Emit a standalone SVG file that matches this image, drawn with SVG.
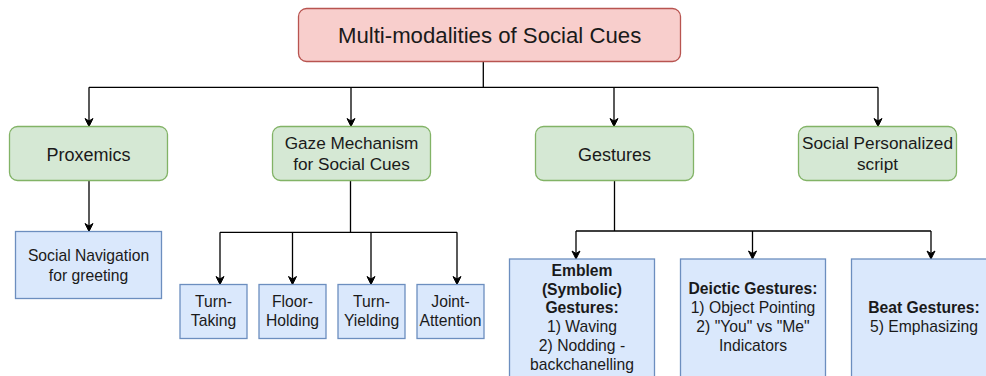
<svg xmlns="http://www.w3.org/2000/svg" width="986" height="376" viewBox="0 0 986 376">
  <style>
    text { font-family: "Liberation Sans", Arial, Helvetica, sans-serif; fill: #1a1a1a; text-anchor: middle; }
    .root { fill: #f8cecc; stroke: #b85450; stroke-width: 1.3; }
    .green { fill: #d5e8d4; stroke: #82b366; stroke-width: 1.3; }
    .blue { fill: #dae8fc; stroke: #6c8ebf; stroke-width: 1.3; }
    .conn { fill: none; stroke: #000; stroke-width: 1.3; }
    .arr { marker-end: url(#ah); }
    .t22 { font-size: 22.2px; }
    .t18 { font-size: 18px; }
    .t17 { font-size: 17.2px; }
    .t16 { font-size: 15.7px; }
    .b { font-weight: bold; }
  </style>
  <defs>
    <marker id="ah" markerUnits="userSpaceOnUse" markerWidth="10" markerHeight="10" refX="9" refY="5" orient="auto">
      <path d="M1,1 L9,5 L1,9 L3.5,5 Z" fill="#000" stroke="#000" stroke-width="1"/>
    </marker>
  </defs>

  <g id="connectors">
    <path class="conn" d="M483.3,61.7 V87.3 M89,87.3 H878"/>
    <path class="conn arr" d="M89,87.3 V126.5"/>
    <path class="conn arr" d="M351,87.3 V126.5"/>
    <path class="conn arr" d="M614,87.3 V126.5"/>
    <path class="conn arr" d="M878,87.3 V126.5"/>
    <path class="conn arr" d="M89,180.5 V231.5"/>
    <path class="conn" d="M350.5,180.5 V232.3 M220,232.3 H457"/>
    <path class="conn arr" d="M220,232.3 V284.5"/>
    <path class="conn arr" d="M292.5,232.3 V284.5"/>
    <path class="conn arr" d="M371,232.3 V284.5"/>
    <path class="conn arr" d="M457,232.3 V284.5"/>
    <path class="conn" d="M614.5,180.5 V231 M576,231 H931"/>
    <path class="conn arr" d="M576,231 V259"/>
    <path class="conn arr" d="M752.5,231 V259"/>
    <path class="conn arr" d="M931,231 V259"/>
  </g>

  <g id="root">
    <rect class="root" x="298.5" y="8.5" width="382" height="53" rx="8" ry="8"/>
    <text class="t22" x="489.6" y="43.2">Multi-modalities of Social Cues</text>
  </g>

  <g id="proxemics">
    <rect class="green" x="9.5" y="126.5" width="158" height="54" rx="8" ry="8"/>
    <text class="t18" x="88.5" y="160.5">Proxemics</text>
  </g>
  <g id="gaze">
    <rect class="green" x="272.5" y="126.5" width="158" height="54" rx="8" ry="8"/>
    <text class="t17" x="351.5" y="149.3">Gaze Mechanism</text>
    <text class="t17" x="351.5" y="170">for Social Cues</text>
  </g>
  <g id="gestures">
    <rect class="green" x="535.5" y="126.5" width="158" height="54" rx="8" ry="8"/>
    <text class="t18" x="614.5" y="160.5">Gestures</text>
  </g>
  <g id="script">
    <rect class="green" x="798.5" y="126.5" width="158" height="54" rx="8" ry="8"/>
    <text class="t17" x="877.5" y="149">Social Personalized</text>
    <text class="t17" x="877.5" y="169.5">script</text>
  </g>

  <g id="social-navigation">
    <rect class="blue" x="15.5" y="231.5" width="146" height="67"/>
    <text class="t16" x="88.5" y="260.5">Social Navigation</text>
    <text class="t16" x="88.5" y="280.5">for greeting</text>
  </g>

  <g id="turn-taking">
    <rect class="blue" x="180" y="284.5" width="67" height="54"/>
    <text class="t16" x="213.5" y="307.3">Turn-</text>
    <text class="t16" x="213.5" y="326">Taking</text>
  </g>
  <g id="floor-holding">
    <rect class="blue" x="259" y="284.5" width="67" height="54"/>
    <text class="t16" x="292.5" y="307.3">Floor-</text>
    <text class="t16" x="292.5" y="326">Holding</text>
  </g>
  <g id="turn-yielding">
    <rect class="blue" x="338" y="284.5" width="67" height="54"/>
    <text class="t16" x="371.5" y="307.3">Turn-</text>
    <text class="t16" x="371.5" y="326">Yielding</text>
  </g>
  <g id="joint-attention">
    <rect class="blue" x="417" y="284.5" width="67" height="54"/>
    <text class="t16" x="450.5" y="307.3">Joint-</text>
    <text class="t16" x="450.5" y="326">Attention</text>
  </g>

  <g id="emblem">
    <rect class="blue" x="509.5" y="259" width="145" height="125"/>
    <text class="t16 b" x="582" y="276">Emblem</text>
    <text class="t16 b" x="582" y="294.5">(Symbolic)</text>
    <text class="t16 b" x="582" y="313.3">Gestures:</text>
    <text class="t16" x="582" y="332.3">1) Waving</text>
    <text class="t16" x="582" y="350.8">2) Nodding -</text>
    <text class="t16" x="582" y="369.7">backchanelling</text>
  </g>
  <g id="deictic">
    <rect class="blue" x="680.5" y="259" width="145" height="125"/>
    <text class="t16 b" x="753" y="294">Deictic Gestures:</text>
    <text class="t16" x="753" y="313.3">1) Object Pointing</text>
    <text class="t16" x="753" y="331.7">2) "You" vs "Me"</text>
    <text class="t16" x="753" y="350.7">Indicators</text>
  </g>
  <g id="beat">
    <rect class="blue" x="851.5" y="259" width="145" height="125"/>
    <text class="t16 b" x="924" y="312.7">Beat Gestures:</text>
    <text class="t16" x="924" y="331.7">5) Emphasizing</text>
  </g>
</svg>
